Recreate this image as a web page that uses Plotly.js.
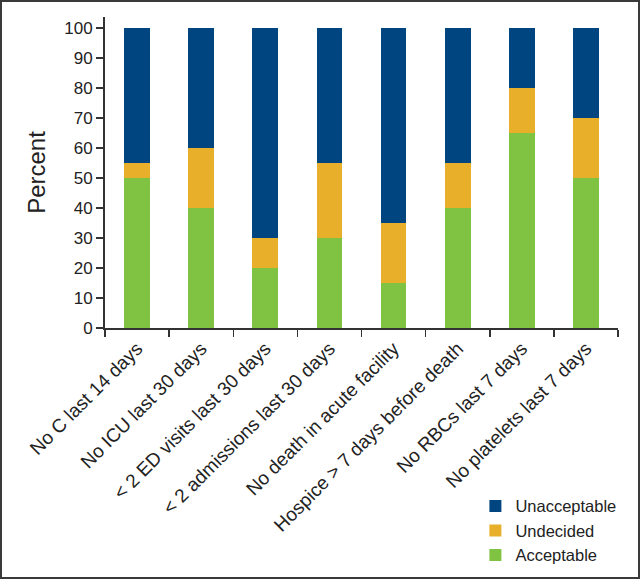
<!DOCTYPE html>
<html>
<head>
<meta charset="utf-8">
<script src="https://cdn.plot.ly/plotly-3.0.1.min.js"></script>
<style>
html,body{margin:0;padding:0;background:#fff;}
#wrap{position:relative;width:640px;height:579px;}
#chart{width:640px;height:579px;}
#frame{position:absolute;left:0;top:0;width:640px;height:579px;box-sizing:border-box;border:2px solid #3a3a3a;pointer-events:none;}
</style>
</head>
<body>
<div id="wrap"><div id="chart"></div><div id="frame"></div></div>
<script>
const categories = [
  "No C last 14 days",
  "No ICU last 30 days",
  "< 2 ED visits last 30 days",
  "< 2 admissions last 30 days",
  "No death in acute facility",
  "Hospice > 7 days before death",
  "No RBCs last 7 days",
  "No platelets last 7 days"
];
const acceptable   = [50, 40, 20, 30, 15, 40, 65, 50];
const undecided    = [5, 20, 10, 25, 20, 15, 15, 20];
const unacceptable = [45, 40, 70, 45, 65, 45, 20, 30];
const yTicks = [0, 10, 20, 30, 40, 50, 60, 70, 80, 90, 100];

const font = "Liberation Sans, Arial, sans-serif";
const traces = [
  {type: "bar", name: "Acceptable", x: categories, y: acceptable, marker: {color: "#80C342"}, width: 0.4},
  {type: "bar", name: "Undecided", x: categories, y: undecided, marker: {color: "#E8B02A"}, width: 0.4},
  {type: "bar", name: "Unacceptable", x: categories, y: unacceptable, marker: {color: "#00457F"}, width: 0.4}
];
const layout = {
  width: 640, height: 579,
  margin: {l: 105, r: 22, t: 17, b: 251, autoexpand: false},
  barmode: "stack",
  paper_bgcolor: "#fff", plot_bgcolor: "#fff",
  font: {family: font, color: "#222", size: 17},
  showlegend: true,
  legend: {
    traceorder: "reversed",
    x: 0.722, y: -0.517, xanchor: "left", yanchor: "top",
    font: {family: font, size: 16.5, color: "#222"},
    itemwidth: 30, tracegroupgap: 0, bgcolor: "rgba(0,0,0,0)"
  },
  xaxis: {
    type: "category",
    tickson: "boundaries",
    ticks: "outside", ticklen: 7, tickwidth: 1.5, tickcolor: "#333",
    showline: true, linecolor: "#333", linewidth: 2,
    showgrid: false, zeroline: false,
    tickangle: -45, automargin: false,
    tickfont: {family: font, size: 19, color: "#222"}
  },
  yaxis: {
    range: [0, 103.7],
    tickvals: yTicks,
    ticktext: yTicks.map(String),
    ticks: "outside", ticklen: 7, tickwidth: 1.5, tickcolor: "#333",
    showline: true, linecolor: "#333", linewidth: 2,
    showgrid: false, zeroline: false, automargin: false,
    tickfont: {family: font, size: 17, color: "#222"},
    title: {text: "Percent", font: {family: font, size: 24, color: "#222"}, standoff: 12}
  }
};
Plotly.newPlot("chart", traces, layout, {displayModeBar: false, staticPlot: true});
</script>
</body>
</html>
